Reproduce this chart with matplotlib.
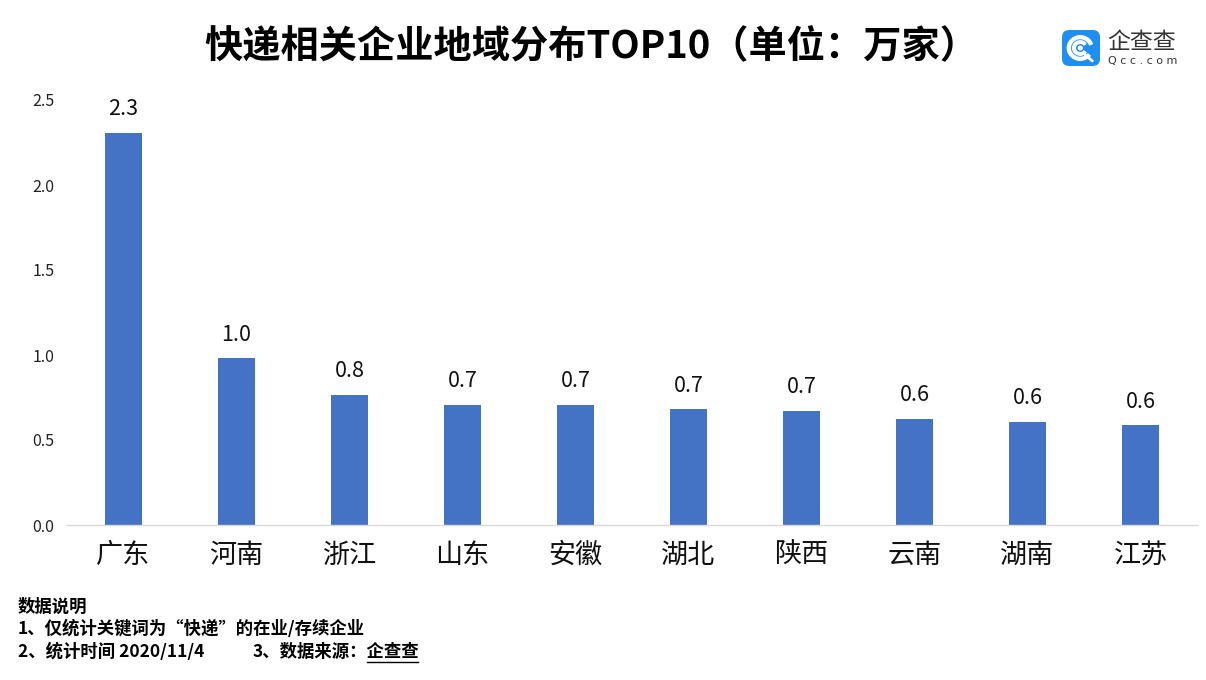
import numpy as np
import matplotlib
matplotlib.use("Agg")
import matplotlib.pyplot as plt
from matplotlib.patches import FancyBboxPatch, Circle, Wedge
from matplotlib.lines import Line2D

plt.rcParams['font.family'] = ['Noto Sans CJK SC', 'DejaVu Sans']

provinces = ['广东', '河南', '浙江', '山东', '安徽', '湖北', '陕西', '云南', '湖南', '江苏']
counts = [2.306, 0.982, 0.765, 0.706, 0.706, 0.682, 0.671, 0.624, 0.606, 0.588]
yticks = [0.0, 0.5, 1.0, 1.5, 2.0, 2.5]

title = '快递相关企业地域分布TOP10（单位：万家）'
notes_head = '数据说明'
note1 = '1、仅统计关键词为“快递”的在业/存续企业'
note2 = '2、统计时间 2020/11/4'
note3 = '3、数据来源：企查查'

fig = plt.figure(figsize=(12.06, 6.8), dpi=100)
ax = fig.add_axes([67/1206, 1 - 525/680, 1130/1206, 425/680])

x = np.arange(len(provinces))
bars = ax.bar(x, counts, width=0.32, color='#4472C4')
for xi, v in zip(x, counts):
    ax.annotate(f'{v:.1f}', (xi, v), xytext=(0, 9), textcoords='offset points',
                ha='center', va='bottom', fontsize=15.5, color='#111111')

ax.set_xlim(-0.5, len(provinces) - 0.5)
ax.set_ylim(0, 2.5)
ax.set_yticks(yticks)
ax.set_yticklabels([f'{t:.1f}' for t in yticks], fontsize=11.5, color='#222222')
ax.set_xticks(x)
ax.set_xticklabels(provinces, fontsize=19.5, color='#111111')
ax.tick_params(axis='both', length=0)
ax.tick_params(axis='y', pad=9)
ax.tick_params(axis='x', pad=12)
for s in ['top', 'right', 'left']:
    ax.spines[s].set_visible(False)
ax.spines['bottom'].set_color('#D9D9D9')
ax.spines['bottom'].set_linewidth(1)

fig.text(591/1206, 1 - 46/680, title, ha='center', va='center',
         fontsize=27.5, fontweight='bold', color='#000000')

# logo
lax = fig.add_axes([1062/1206, 1 - 66/680, 38/1206, 36/680])
lax.set_xlim(0, 1)
lax.set_ylim(0, 1)
lax.axis('off')
lax.add_patch(FancyBboxPatch((0, 0), 1, 1, boxstyle='round,pad=0,rounding_size=0.2',
                             facecolor='#1E8EF0', edgecolor='none'))
lax.add_patch(Wedge((0.48, 0.5), 0.34, 20, 320, width=0.08, color='white'))
lax.add_patch(Wedge((0.48, 0.5), 0.2, 40, 320, width=0.07, color='white'))
lax.add_patch(Circle((0.48, 0.5), 0.05, color='white'))
lax.plot([0.62, 0.8], [0.3, 0.14], color='white', lw=2, solid_capstyle='round')
fig.text(1107/1206, 1 - 42/680, '企查查', ha='left', va='center', fontsize=16.5, color='#333333')
fig.text(1108/1206, 1 - 61/680, 'Q c c . c o m', ha='left', va='center', fontsize=8,
         color='#333333', family='DejaVu Sans')

fs = 12.5
fig.text(18/1206, 1 - 607/680, notes_head, ha='left', va='center', fontsize=fs, fontweight='bold')
fig.text(18/1206, 1 - 629/680, note1, ha='left', va='center', fontsize=fs, fontweight='bold')
fig.text(18/1206, 1 - 652/680, note2, ha='left', va='center', fontsize=fs, fontweight='bold')
fig.text(253/1206, 1 - 652/680, note3, ha='left', va='center', fontsize=fs, fontweight='bold')
fig.add_artist(Line2D([367/1206, 418/1206], [1 - 662/680, 1 - 662/680],
                      transform=fig.transFigure, color='black', lw=1))

fig.savefig('out.png', dpi=100)
